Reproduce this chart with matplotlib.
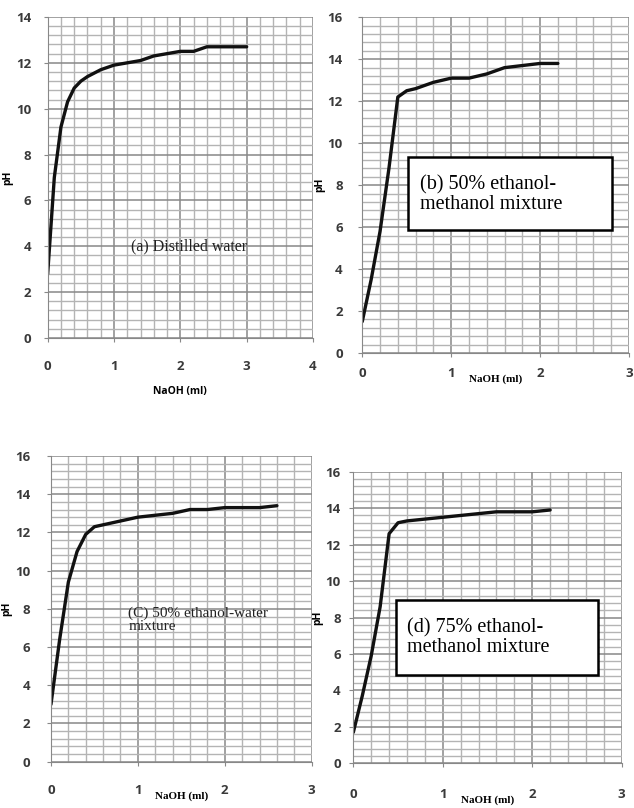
import matplotlib
matplotlib.use('Agg')
from matplotlib import pyplot as plt
from matplotlib.patches import Rectangle
from matplotlib.ticker import MultipleLocator

# (a) distilled water
xa = [0, 0.1, 0.2, 0.3, 0.4, 0.5, 0.6, 0.8, 1.0, 1.2, 1.4, 1.6, 1.8, 2.0, 2.2, 2.4, 2.6, 2.8, 3.0]
ya = [2.8, 7.0, 9.2, 10.3, 10.9, 11.2, 11.4, 11.7, 11.9, 12.0, 12.1, 12.3, 12.4, 12.5, 12.5, 12.7, 12.7, 12.7, 12.7]
# (b) 50% ethanol-methanol
xb = [0, 0.1, 0.2, 0.3, 0.4, 0.5, 0.6, 0.8, 1.0, 1.2, 1.4, 1.6, 1.8, 2.0, 2.2]
yb = [1.5, 3.5, 5.8, 8.8, 12.2, 12.5, 12.6, 12.9, 13.1, 13.1, 13.3, 13.6, 13.7, 13.8, 13.8]
# (c) 50% ethanol-water
xc = [0, 0.1, 0.2, 0.3, 0.4, 0.5, 0.6, 0.8, 1.0, 1.2, 1.4, 1.6, 1.8, 2.0, 2.2, 2.4, 2.6]
yc = [3.0, 6.4, 9.4, 11.0, 11.9, 12.3, 12.4, 12.6, 12.8, 12.9, 13.0, 13.2, 13.2, 13.3, 13.3, 13.3, 13.4]
# (d) 75% ethanol-methanol
xd = [0, 0.1, 0.2, 0.3, 0.4, 0.5, 0.6, 0.8, 1.0, 1.2, 1.4, 1.6, 1.8, 2.0, 2.2]
yd = [1.7, 3.7, 5.9, 8.6, 12.6, 13.2, 13.3, 13.4, 13.5, 13.6, 13.7, 13.8, 13.8, 13.8, 13.9]

fig = plt.figure(figsize=(6.34, 8.08), dpi=100)

serif = ['Liberation Serif', 'DejaVu Serif']
sans = ['Open Sans', 'DejaVu Sans']


def panel(rect, x, y, xmax, ymax, xpad, ypad, xlab_serif):
    ax = fig.add_axes(rect)
    ax.plot(x, y, color='#111111', linewidth=2.4, solid_capstyle='round', solid_joinstyle='round')
    ax.set_xlim(0, xmax)
    ax.set_ylim(0, ymax)
    ax.xaxis.set_major_locator(MultipleLocator(1))
    ax.xaxis.set_minor_locator(MultipleLocator(0.2))
    ax.yaxis.set_major_locator(MultipleLocator(2))
    ax.yaxis.set_minor_locator(MultipleLocator(0.4))
    ax.grid(visible=True, which='major', color='#888888', linewidth=1.1)
    ax.grid(visible=True, which='minor', color='#b4b4b4', linewidth=1.0)
    ax.set_axisbelow(True)
    for s in ['top', 'right']:
        ax.spines[s].set_visible(False)
    for s in ['left', 'bottom']:
        ax.spines[s].set_color('#888888')
    ax.tick_params(which='minor', length=0)
    ax.tick_params(which='major', length=3, color='#888888', labelcolor='#3a3a3a', labelsize=9.5)
    ax.tick_params(axis='x', pad=xpad)
    ax.tick_params(axis='y', pad=ypad)
    for lab in ax.get_xticklabels() + ax.get_yticklabels():
        lab.set_fontweight('bold')
        lab.set_family(sans)
    ax.set_ylabel('pH', fontsize=7.5, fontweight='bold', family=sans, labelpad=2)
    if xlab_serif:
        ax.set_xlabel('NaOH (ml)', fontsize=8, fontweight='bold', family=serif, labelpad=-4)
    else:
        ax.set_xlabel('NaOH (ml)', fontsize=7.5, fontweight='bold', family=sans, labelpad=9)
    return ax


ax1 = panel([0.0752, 0.5817, 0.4185, 0.3973], xa, ya, 4, 14, 13, 9, False)
ax1.text(1.25, 4.0, '(a) Distilled water', family=serif, fontsize=11.5, va='center', color='#222222')

ax2 = panel([0.5714, 0.5631, 0.4207, 0.4155], xb, yb, 3, 16, 7, 11, True)
ax2.add_patch(Rectangle((0.51, 5.86), 2.30, 3.47, facecolor='white', edgecolor='black', linewidth=1.8, zorder=3))
ax2.text(0.65, 7.55, '(b) 50% ethanol-\nmethanol mixture', family=serif, fontsize=14.5, va='center',
         linespacing=1.1, zorder=4)

ax3 = panel([0.0804, 0.0573, 0.4112, 0.3783], xc, yc, 3, 16, 13, 12, True)
ax3.text(0.89, 7.45, '(C) 50% ethanol-water\nmixture', family=serif, fontsize=11, va='center',
         linespacing=1.0, color='#222222')

ax4 = panel([0.5573, 0.0553, 0.4233, 0.3609], xd, yd, 3, 16, 15, 6, True)
ax4.add_patch(Rectangle((0.48, 4.84), 2.26, 4.12, facecolor='white', edgecolor='black', linewidth=1.8, zorder=3))
ax4.text(0.60, 6.9, '(d) 75% ethanol-\nmethanol mixture', family=serif, fontsize=14.5, va='center',
         linespacing=1.1, zorder=4)

plt.savefig('out.png', dpi=100)
